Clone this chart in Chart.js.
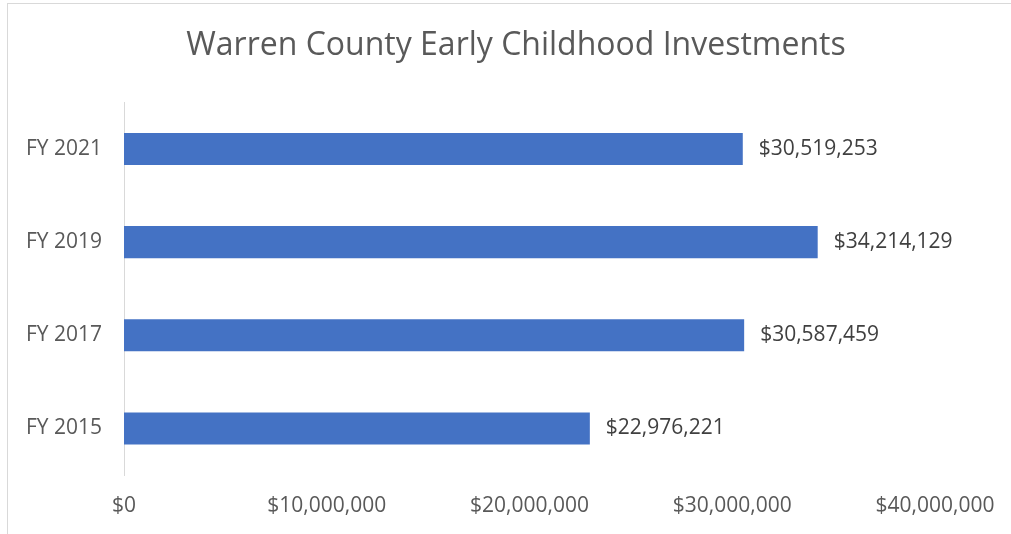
<!DOCTYPE html>
<html>
<head>
<meta charset="utf-8">
<script src="https://cdn.jsdelivr.net/npm/chart.js@4.4.1/dist/chart.umd.min.js"></script>
<style>
  body { margin: 0; background: #fff; }
  #frame { position: absolute; left: 7px; top: 3px; width: 1100px; height: 600px; border: 1px solid #d9d9d9; }
  #wrap { position: absolute; left: 0; top: 0; width: 1011px; height: 534px; }
</style>
</head>
<body>
<div id="frame"></div>
<div id="wrap"><canvas id="myChart"></canvas></div>
<script>
'use strict';
// fiscal years, top to bottom
let years = ['FY 2021', 'FY 2019', 'FY 2017', 'FY 2015'];
let investments = [30519253, 34214129, 30587459, 22976221];
let tickValues = [0, 10000000, 20000000, 30000000, 40000000];

let fontName = '"Open Sans", sans-serif';

function money(v) {
  return '$' + Number(v).toLocaleString('en-US');
}

// writes the dollar amount just right of each bar
let valueLabels = {
  id: 'valueLabels',
  afterDatasetsDraw(chart) {
    let ctx = chart.ctx;
    let meta = chart.getDatasetMeta(0);
    ctx.save();
    ctx.font = '21px ' + fontName;
    ctx.fillStyle = '#404040';
    ctx.textAlign = 'left';
    ctx.textBaseline = 'middle';
    meta.data.forEach(function (bar, i) {
      ctx.fillText(money(investments[i]), bar.x + 16, bar.y);
    });
    ctx.restore();
  }
};

let ctx = document.getElementById('myChart').getContext('2d');
let chart = new Chart(ctx, {
  type: 'bar',
  data: {
    labels: years,
    datasets: [{
      label: 'Investment',
      data: investments,
      backgroundColor: '#4472c4',
      borderWidth: 0,
      barPercentage: 1,
      categoryPercentage: 0.344
    }]
  },
  options: {
    indexAxis: 'y',
    responsive: true,
    maintainAspectRatio: false,
    animation: false,
    layout: { padding: { left: 21, right: 0, top: 0, bottom: 16 } },
    plugins: {
      legend: { display: false },
      tooltip: { enabled: false },
      title: {
        display: true,
        text: 'Warren County Early Childhood Investments',
        color: '#595959',
        font: { family: fontName, size: 32, weight: 'normal' },
        padding: { top: 27, bottom: 37 }
      }
    },
    scales: {
      x: {
        min: 0,
        max: 40000000,
        afterBuildTicks(scale) {
          scale.ticks = tickValues.map(v => ({ value: v }));
        },
        // leave room on the right for the last tick and the value labels
        afterFit(scale) {
          scale.paddingRight = 76;
          scale.height = 43;
        },
        grid: { display: false, drawTicks: false },
        border: { display: false },
        ticks: {
          padding: 18,
          color: '#595959',
          font: { family: fontName, size: 21 },
          maxRotation: 0,
          callback: v => money(v)
        }
      },
      y: {
        afterFit(scale) { scale.width = 103; },
        grid: { display: false, drawTicks: false },
        border: { display: true, color: '#d9d9d9', width: 1 },
        ticks: {
          padding: 22,
          color: '#595959',
          font: { family: fontName, size: 21 }
        }
      }
    }
  },
  plugins: [valueLabels]
});
</script>
</body>
</html>
